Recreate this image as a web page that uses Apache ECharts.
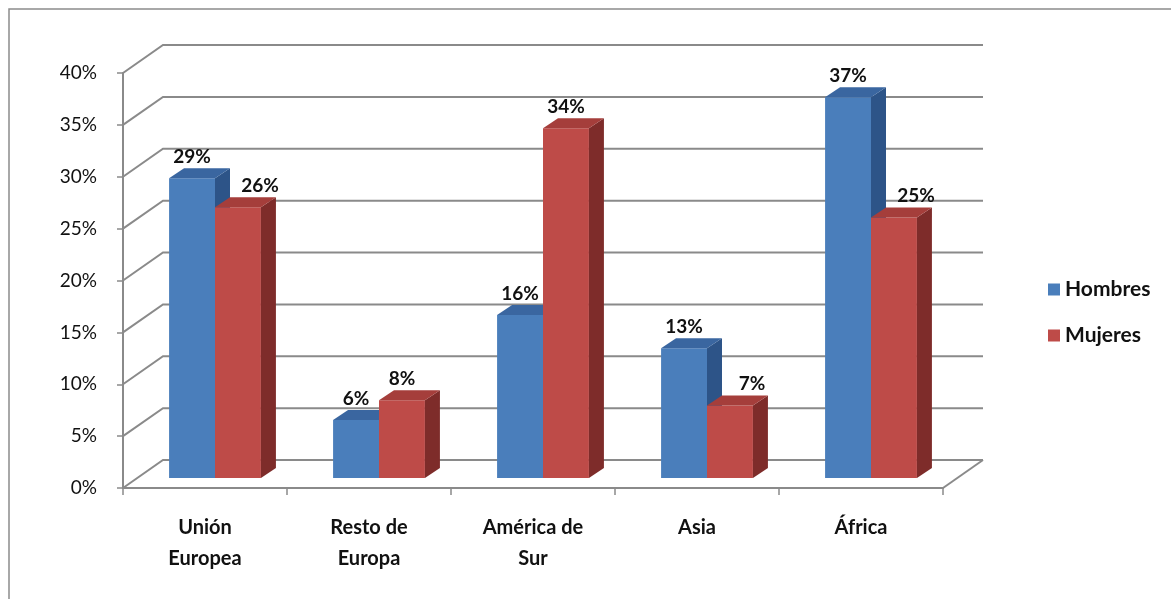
<!DOCTYPE html>
<html>
<head>
<meta charset="utf-8">
<script src="https://cdn.jsdelivr.net/npm/echarts@6/dist/echarts.min.js"></script>
<style>
  html, body { margin: 0; padding: 0; background: #fff; }
  #chart { width: 1171px; height: 599px; }
</style>
</head>
<body>
<div id="chart"></div>
<script>
// data
const categories = ['Unión\nEuropea', 'Resto de\nEuropa', 'América de\nSur', 'Asia', 'África'];
const hombres = [28.9, 5.6, 15.7, 12.5, 36.7];
const mujeres = [26.1, 7.5, 33.7, 7.0, 25.1];
const yTicks = [0, 5, 10, 15, 20, 25, 30, 35, 40];

// fake 3d look
const WALL_DX = 40, WALL_DY = -28;   // back wall offset
const BAR_DX = 10, BAR_DY = -10;     // bar front face offset from front floor edge
const DEPTH_DX = 15, DEPTH_DY = -10; // bar depth
const gridColor = '#8a8a8a';
const font = 'Lato, "Open Sans", sans-serif';

const chart = echarts.init(document.getElementById('chart'));

function frameItem(params, api) {
  const v = api.value(1);
  const p = api.coord([0, v]);
  const band = api.size([1, 0])[0];
  const left = p[0] - band / 2;
  const right = left + band * categories.length;
  const y = p[1];
  const children = [{
    type: 'polyline',
    shape: { points: [[left, y], [left + WALL_DX, y + WALL_DY], [right + WALL_DX, y + WALL_DY]] },
    style: { stroke: gridColor, lineWidth: 2, fill: null }
  }];
  if (v === 0) {
    children.push({
      type: 'line',
      shape: { x1: right, y1: y, x2: right + WALL_DX, y2: y + WALL_DY },
      style: { stroke: gridColor, lineWidth: 2 }
    });
  }
  return { type: 'group', children: children };
}

function barItem(side, front, top, sideCol) {
  return function (params, api) {
    const i = api.value(0), v = api.value(1);
    const base = api.coord([i, 0]);
    const head = api.coord([i, v]);
    const band = api.size([1, 0])[0];
    const w = band * 0.28;
    const x0 = base[0] + BAR_DX + (side === 0 ? -w : 0);
    const x1 = x0 + w;
    const yb = base[1] + BAR_DY, yt = head[1] + BAR_DY;
    // red label sits a bit to the right when it is shorter than the blue one
    let shift = 0;
    if (side === 1 && mujeres[i] < hombres[i]) shift = 22;
    return {
      type: 'group',
      children: [
        { type: 'polygon', shape: { points: [[x0, yb], [x1, yb], [x1, yt], [x0, yt]] }, style: { fill: front } },
        { type: 'polygon', shape: { points: [[x1, yb], [x1 + DEPTH_DX, yb + DEPTH_DY], [x1 + DEPTH_DX, yt + DEPTH_DY], [x1, yt]] }, style: { fill: sideCol } },
        { type: 'polygon', shape: { points: [[x0, yt], [x1, yt], [x1 + DEPTH_DX, yt + DEPTH_DY], [x0 + DEPTH_DX, yt + DEPTH_DY]] }, style: { fill: top } },
        {
          type: 'text',
          style: {
            text: Math.round(v) + '%',
            x: (x0 + x1) / 2 + shift,
            y: yt + DEPTH_DY - 2,
            align: 'center',
            verticalAlign: 'bottom',
            font: 'bold 19px ' + font,
            fill: '#111'
          }
        }
      ]
    };
  };
}

const option = {
  animation: false,
  backgroundColor: '#fff',
  graphic: [{
    type: 'rect',
    shape: { x: 9, y: 9, width: 1300, height: 700 },
    style: { fill: null, stroke: '#8c8c8c', lineWidth: 1.5 },
    silent: true
  }],
  grid: { left: 123, right: 228, top: 73, bottom: 111 },
  legend: {
    orient: 'vertical',
    left: 1043,
    top: 274,
    icon: 'rect',
    itemWidth: 12,
    itemHeight: 12,
    itemGap: 25,
    textStyle: { fontFamily: font, fontWeight: 'bold', fontSize: 21, color: '#111' },
    data: ['Hombres', 'Mujeres']
  },
  xAxis: {
    type: 'category',
    data: categories,
    axisLine: { lineStyle: { color: gridColor, width: 2 } },
    axisTick: { show: true, length: 7, lineStyle: { color: gridColor, width: 1.5 } },
    axisLabel: {
      margin: 24,
      color: '#111',
      fontFamily: font,
      fontWeight: 'bold',
      fontSize: 20,
      lineHeight: 31,
      interval: 0
    }
  },
  yAxis: {
    type: 'value',
    min: 0,
    max: 40,
    interval: 5,
    axisLine: { show: true, lineStyle: { color: gridColor, width: 2 } },
    axisTick: { show: true, length: 6, lineStyle: { color: gridColor, width: 1.5 } },
    splitLine: { show: false },
    axisLabel: {
      margin: 26,
      color: '#111',
      fontFamily: font,
      fontSize: 19,
      formatter: '{value}%'
    }
  },
  series: [
    {
      name: 'frame',
      type: 'custom',
      z: 1,
      silent: true,
      renderItem: frameItem,
      data: yTicks.map(v => [0, v])
    },
    {
      name: 'Hombres',
      type: 'custom',
      z: 3,
      itemStyle: { color: '#4a7ebb' },
      renderItem: barItem(0, '#4a7ebb', '#3a66a0', '#2d5488'),
      data: hombres.map((v, i) => [i, v])
    },
    {
      name: 'Mujeres',
      type: 'custom',
      z: 3,
      itemStyle: { color: '#be4b48' },
      renderItem: barItem(1, '#be4b48', '#a53e3b', '#7e2c2a'),
      data: mujeres.map((v, i) => [i, v])
    }
  ]
};

chart.setOption(option);
</script>
</body>
</html>
